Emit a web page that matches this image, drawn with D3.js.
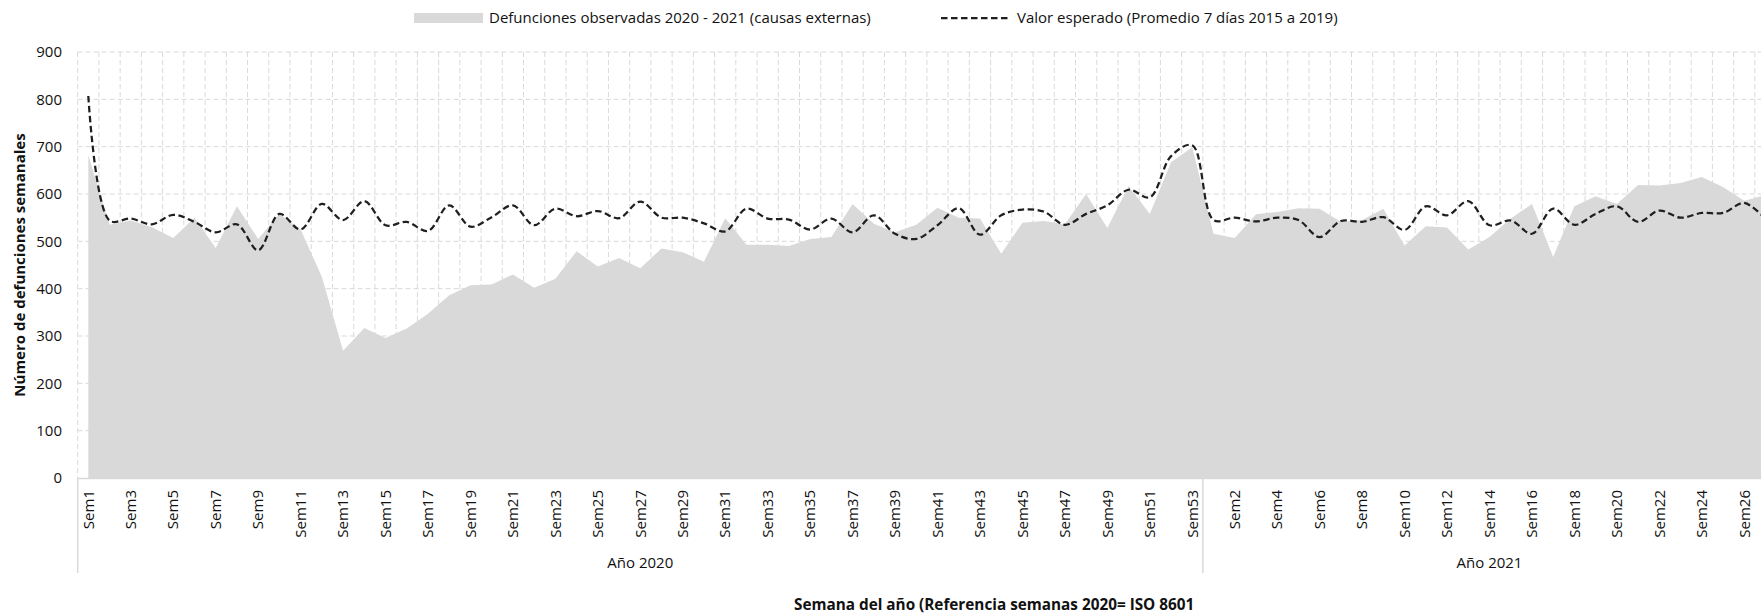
<!DOCTYPE html>
<html>
<head>
<meta charset="utf-8">
<script src="https://cdn.jsdelivr.net/npm/d3@7/dist/d3.min.js"></script>
<style>
    body { margin: 0; overflow: hidden; background: #fff; }
    text { font-family: "Open Sans", sans-serif; fill: #111; }
</style>
</head>
<body>
<svg id="chart"></svg>
<script>
// categories
var weeks2020 = d3.range(1, 54).map(n => "Sem" + n);
var weeks2021 = d3.range(1, 28).map(n => "Sem" + n);
var years = ["Año 2020", "Año 2021"];

// series
var observed2020 = [682, 535, 544, 530, 507, 550, 486, 574, 505, 558, 525, 425, 269, 317, 296, 316, 347, 386,
    407, 409, 430, 402, 421, 479, 447, 465, 443, 485, 477, 457, 549, 493, 493, 490, 505, 509, 579, 537,
    519, 535, 571, 550, 548, 474, 539, 543, 536, 600, 528, 617, 558, 667, 699];
var observed2021 = [516, 507, 557, 562, 570, 569, 541, 545, 569, 491, 532, 529, 483, 509, 548, 579, 467, 574,
    595, 579, 619, 618, 623, 636, 615, 586, 598];
var expected2020 = [807, 544, 548, 536, 556, 541, 519, 536, 481, 558, 525, 579, 545, 585, 534, 541, 522, 576,
    531, 551, 576, 534, 569, 553, 564, 549, 584, 550, 550, 538, 521, 569, 548, 546, 525, 548, 519, 555,
    516, 505, 534, 570, 514, 555, 567, 563, 535, 558, 576, 609, 593, 680, 703];
var expected2021 = [545, 550, 542, 550, 545, 509, 543, 541, 551, 524, 574, 555, 585, 534, 544, 516, 569, 535,
    558, 574, 541, 565, 550, 560, 560, 581, 547];

var yTicks = [0, 100, 200, 300, 400, 500, 600, 700, 800, 900];

var legendLabels = ["Defunciones observadas 2020 - 2021 (causas externas)",
    "Valor esperado (Promedio 7 días 2015 a 2019)"];
var yTitle = "Número de defunciones semanales";
var xTitle = "Semana del año (Referencia semanas 2020= ISO 8601";

var ds = [];
weeks2020.forEach((w, i) => ds.push({ key: "2020-" + w, year: 0, label: w, obs: observed2020[i], exp: expected2020[i] }));
weeks2021.forEach((w, i) => ds.push({ key: "2021-" + w, year: 1, label: w, obs: observed2021[i], exp: expected2021[i] }));

var width = 1800, height = 613, fontSize = 15,
    cs = {
        pallette: { area: '#d9d9d9', line: '#1f1f1f', grid: '#d9d9d9' },
        x: { left: 77.7, right: 1776.1, axisY: 478, labelGap: 12 },
        y: { top: 52, bottom: 478, labelX: 62 }
    };

var svg = d3.select("#chart").attr("width", width).attr("height", height);

cs.x.scale = d3.scaleBand().domain(ds.map(d => d.key)).range([cs.x.left, cs.x.right]);
cs.y.scale = d3.scaleLinear().domain([0, 900]).range([cs.y.bottom, cs.y.top]);
var bw = cs.x.scale.bandwidth();
var cx = d => cs.x.scale(d.key) + bw / 2;

// grid
svg.append("g").selectAll("line")
    .data(yTicks.slice(1))
    .enter().append("line")
    .attr("x1", cs.x.left).attr("x2", cs.x.right)
    .attr("y1", d => cs.y.scale(d)).attr("y2", d => cs.y.scale(d))
    .attr("stroke", cs.pallette.grid).attr("stroke-dasharray", "5,3");

svg.append("g").selectAll("line")
    .data(ds)
    .enter().append("line")
    .attr("x1", d => cs.x.scale(d.key)).attr("x2", d => cs.x.scale(d.key))
    .attr("y1", cs.y.top).attr("y2", cs.y.bottom)
    .attr("stroke", cs.pallette.grid).attr("stroke-dasharray", "5,3");

// observed area
var area = d3.area().x(cx).y0(cs.y.scale(0)).y1(d => cs.y.scale(d.obs));
svg.append("path").datum(ds)
    .attr("d", area)
    .attr("fill", cs.pallette.area);

// expected line
var line = d3.line().x(cx).y(d => cs.y.scale(d.exp)).curve(d3.curveCatmullRom.alpha(0.5));
svg.append("path").datum(ds)
    .attr("d", line)
    .attr("fill", "none")
    .attr("stroke", cs.pallette.line)
    .attr("stroke-width", 2.25)
    .attr("stroke-dasharray", "6.5,3.5");

// x axis
cs.x.axis = d3.axisBottom(cs.x.scale)
    .tickValues(ds.filter((d, i) => i % 2 == 0).map(d => d.key))
    .tickFormat(k => k.split("-")[1])
    .tickSize(0).tickSizeOuter(0);
var gx = svg.append("g").attr("transform", "translate(0," + cs.x.axisY + ")").call(cs.x.axis);
gx.select(".domain").attr("stroke", cs.pallette.grid).attr("stroke-width", 1.5);
gx.selectAll("text")
    .attr("font-size", fontSize)
    .attr("y", 0).attr("dy", "0.35em")
    .attr("x", -cs.x.labelGap)
    .attr("text-anchor", "end")
    .attr("transform", "rotate(-90)")
    .style("font-family", "Open Sans").style("fill", "#111");

// y axis
cs.y.axis = d3.axisLeft(cs.y.scale).tickValues(yTicks).tickSize(0).tickPadding(cs.x.left - cs.y.labelX);
var gy = svg.append("g").attr("transform", "translate(" + cs.x.left + ",0)").call(cs.y.axis);
gy.select(".domain").remove();
gy.selectAll("text").attr("font-size", fontSize).style("font-family", "Open Sans").style("fill", "#111");

// year groups
var groupStarts = [cs.x.scale(ds[0].key), cs.x.scale("2021-Sem1"), cs.x.right];
svg.append("g").selectAll("line")
    .data(groupStarts)
    .enter().append("line")
    .attr("x1", d => d).attr("x2", d => d)
    .attr("y1", cs.x.axisY).attr("y2", 573)
    .attr("stroke", cs.pallette.grid).attr("stroke-width", 1.5);

svg.append("g").selectAll("text")
    .data(years)
    .enter().append("text")
    .attr("x", (d, i) => (groupStarts[i] + groupStarts[i + 1]) / 2)
    .attr("y", 563)
    .attr("dy", "0.35em")
    .attr("text-anchor", "middle")
    .attr("font-size", fontSize)
    .text(d => d);

// titles
svg.append("text")
    .attr("transform", "translate(20," + (cs.y.top + cs.y.bottom) / 2 + ") rotate(-90)")
    .attr("text-anchor", "middle").attr("dy", "0.35em")
    .attr("font-size", fontSize).attr("font-weight", "bold")
    .text(yTitle);

svg.append("text")
    .attr("x", 794).attr("y", 605).attr("dy", "0.35em")
    .attr("font-size", 15.3).attr("font-weight", "bold")
    .text(xTitle);

// legend
var lg = svg.append("g");
lg.append("rect").attr("x", 414).attr("y", 13).attr("width", 69).attr("height", 10).attr("fill", cs.pallette.area);
lg.append("text").attr("x", 489).attr("y", 18).attr("dy", "0.35em").attr("font-size", fontSize).text(legendLabels[0]);
lg.append("line").attr("x1", 941).attr("x2", 1010).attr("y1", 18).attr("y2", 18)
    .attr("stroke", cs.pallette.line).attr("stroke-width", 2.25).attr("stroke-dasharray", "6.5,3.5");
lg.append("text").attr("x", 1017).attr("y", 18).attr("dy", "0.35em").attr("font-size", fontSize).text(legendLabels[1]);
</script>
</body>
</html>
